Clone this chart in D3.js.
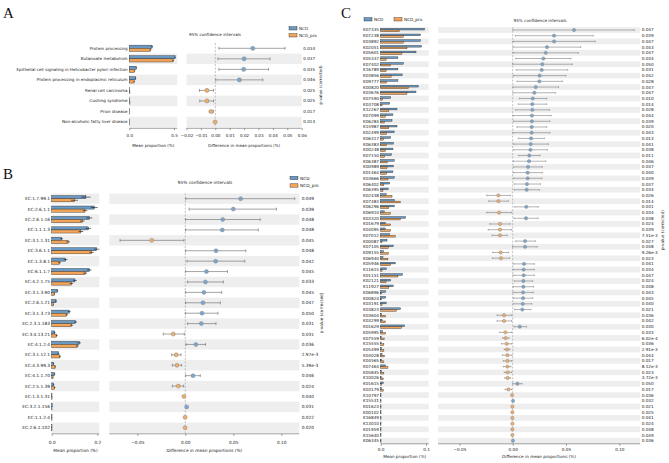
<!DOCTYPE html>
<html>
<head>
<meta charset="utf-8">
<script src="https://cdn.jsdelivr.net/npm/d3@7"></script>
<style>
body { margin: 0; background: #fff; }
svg text { font-family: "DejaVu Sans", sans-serif; fill: #222; }
</style>
</head>
<body>
<svg id="chart" width="669" height="463"></svg>
<script>
// ---- panel A: KEGG pathways ----
var aLabels = ["Protein processing", "Butanoate metabolism", "Epithelial cell signaling in Helicobacter pylori infection",
    "Protein processing in endoplasmic reticulum", "Renal cell carcinoma", "Cushing syndrome", "Prion disease",
    "Non-alcoholic fatty liver disease"];
var aNcd = [0.255, 0.512, 0.078, 0.072, 0.004, 0.004, 0.002, 0.0005];
var aNcdErr = [0.01, 0.01, 0.006, 0.006, 0.001, 0.001, 0.0005, 0.0002];
var aPro = [0.235, 0.49, 0.060, 0.054, 0.007, 0.007, 0.004, 0.0008];
var aProErr = [0.01, 0.01, 0.006, 0.006, 0.001, 0.001, 0.0005, 0.0002];
var aDiff = [0.026, 0.020, 0.0197, 0.0167, -0.0058, -0.0058, -0.0028, -0.0001];
var aLow = [0.0025, 0.0018, 0.0025, 0.0003, -0.011, -0.0108, -0.0042, -0.0003];
var aHigh = [0.0484, 0.038, 0.037, 0.033, -0.0013, -0.0012, -0.0013, 0.0001];
var aP = ["0.034", "0.037", "0.035", "0.046", "0.025", "0.025", "0.017", "0.014"];
var aBarTicks = [0, 0.5];
var aDiffTicks = [-0.02, -0.01, 0, 0.01, 0.02, 0.03, 0.04, 0.05, 0.06];

// ---- panel B: enzymes ----
var bLabels = ["EC:1.7.99.1", "EC:2.6.1.1", "EC:2.6.1.16", "EC:1.1.1.3", "EC:3.1.1.31", "EC:3.6.1.1", "EC:1.3.8.1",
    "EC:6.1.1.7", "EC:4.2.1.75", "EC:3.1.3.90", "EC:2.6.1.21", "EC:3.1.3.73", "EC:2.3.1.183", "EC:3.4.13.21",
    "EC:4.1.2.4", "EC:3.1.12.1", "EC:4.3.99.3", "EC:4.1.1.70", "EC:2.5.1.39", "EC:1.3.1.31", "EC:3.2.1.156",
    "EC:1.1.2.4", "EC:2.6.1.102"];
var bNcd = [0.150, 0.187, 0.165, 0.161, 0.044, 0.197, 0.061, 0.165, 0.102, 0.025, 0.019, 0.077, 0.104, 0.013,
    0.121, 0.029, 0.009, 0.013, 0.009, 0.001, 0.002, 0.0005, 0.0005];
var bNcdErr = [0.02, 0.015, 0.013, 0.012, 0.006, 0.012, 0.008, 0.01, 0.008, 0.004, 0.004, 0.006, 0.007, 0.003,
    0.007, 0.004, 0.002, 0.003, 0.002, 0.0003, 0.0005, 0.0002, 0.0002];
var bPro = [0.100, 0.146, 0.134, 0.128, 0.072, 0.175, 0.034, 0.147, 0.086, 0.012, 0.007, 0.066, 0.088, 0.022,
    0.112, 0.036, 0.015, 0.006, 0.013, 0.0015, 0.001, 0.0008, 0.0008];
var bProErr = [0.015, 0.01, 0.01, 0.01, 0.008, 0.01, 0.006, 0.008, 0.007, 0.003, 0.002, 0.005, 0.006, 0.004,
    0.006, 0.004, 0.003, 0.002, 0.003, 0.0004, 0.0003, 0.0002, 0.0002];
var bDiff = [0.0576, 0.050, 0.039, 0.0385, -0.035, 0.032, 0.0316, 0.022, 0.021, 0.0194, 0.0184, 0.0174, 0.0167,
    -0.0125, 0.011, -0.0094, -0.0087, 0.008, -0.0073, -0.0014, 0.0014, -0.0002, -0.0002];
var bLow = [0.0005, 0.004, 0.0003, 0.0003, -0.068, 0.0003, 0.0017, 0.0003, 0.0024, 0.0003, 0.0003, 0.0, 0.0024,
    -0.023, 0.0007, -0.0142, -0.0135, 0.0003, -0.0135, -0.002, 0.001, -0.0004, -0.0004];
var bHigh = [0.114, 0.095, 0.078, 0.076, -0.0014, 0.063, 0.062, 0.044, 0.0396, 0.038, 0.0365, 0.034, 0.032,
    -0.001, 0.021, -0.0045, -0.0038, 0.0156, -0.0017, -0.0008, 0.0018, 0.0, 0.0];
var bP = ["0.049", "0.039", "0.048", "0.048", "0.045", "0.048", "0.042", "0.045", "0.033", "0.045", "0.047",
    "0.050", "0.031", "0.031", "0.036", "2.97e-3", "5.39e-3", "0.046", "0.024", "0.040", "0.031", "0.022", "0.020"];
var bBarTicks = [0, 0.2];
var bDiffTicks = [-0.05, 0, 0.05, 0.10];

// ---- panel C: KEGG orthologs ----
var cLabels = ["K07335", "K07238", "K03892", "K02051", "K05601", "K05337", "K07402", "K16789", "K03856", "K09777",
    "K00820", "K03676", "K07590", "K03708", "K12267", "K07099", "K06284", "K15987", "K02499", "K06317",
    "K06383", "K00248", "K07150", "K06387", "K00989", "K01464", "K03666", "K06402", "K06395", "K02438",
    "K07483", "K06296", "K06910", "K03320", "K01679", "K04095", "K07012", "K00087", "K07105", "K09155",
    "K06940", "K05946", "K11615", "K01151", "K02121", "K11927", "K06896", "K00824", "K03191", "K03823",
    "K03604", "K03299", "K01629", "K05995", "K07559", "K15555", "K05499", "K04028", "K04565", "K07464",
    "K05845", "K10026", "K01615", "K03179", "K10797", "K15531", "K01623", "K00102", "K16849", "K13010",
    "K01959", "K15640", "K06345"];
var cNcd = [0.097, 0.088, 0.088, 0.090, 0.078, 0.038, 0.050, 0.038, 0.048, 0.038,
    0.083, 0.078, 0.022, 0.020, 0.036, 0.027, 0.025, 0.036, 0.030, 0.022,
    0.028, 0.027, 0.024, 0.030, 0.028, 0.027, 0.030, 0.020, 0.017, 0.012,
    0.030, 0.030, 0.008, 0.055, 0.010, 0.010, 0.020, 0.014, 0.028, 0.006,
    0.005, 0.032, 0.013, 0.048, 0.022, 0.028, 0.011, 0.011, 0.012, 0.044,
    0.002, 0.003, 0.053, 0.004, 0.001, 0.001, 0.002, 0.003, 0.002, 0.011,
    0.002, 0.001, 0.006, 0.002, 0.0003, 0.0005, 0.0003, 0.0003, 0.0003, 0.0003,
    0.0003, 0.0003, 0.0004];
var cPro = [0.042, 0.050, 0.050, 0.058, 0.047, 0.012, 0.022, 0.012, 0.023, 0.013,
    0.062, 0.058, 0.004, 0.003, 0.018, 0.010, 0.008, 0.018, 0.013, 0.006,
    0.012, 0.011, 0.009, 0.015, 0.014, 0.013, 0.016, 0.007, 0.005, 0.025,
    0.043, 0.018, 0.021, 0.043, 0.022, 0.022, 0.032, 0.003, 0.017, 0.017,
    0.016, 0.022, 0.003, 0.038, 0.012, 0.018, 0.002, 0.002, 0.003, 0.035,
    0.010, 0.011, 0.046, 0.011, 0.008, 0.007, 0.007, 0.008, 0.007, 0.016,
    0.007, 0.006, 0.002, 0.006, 0.0006, 0.0002, 0.0005, 0.0005, 0.0005, 0.0005,
    0.0005, 0.0005, 0.0002];
var cDiff = [0.0575, 0.0388, 0.0388, 0.0322, 0.031, 0.0288, 0.0278, 0.0272, 0.0253, 0.025,
    0.0216, 0.0203, 0.0188, 0.0184, 0.0184, 0.018, 0.018, 0.0178, 0.0178, 0.0172,
    0.0169, 0.0166, 0.0156, 0.0153, 0.0144, 0.014, 0.014, 0.0134, 0.0131, -0.0134,
    -0.0134, 0.0128, -0.0128, 0.0125, -0.0119, -0.0119, -0.0119, 0.0116, 0.0116, -0.0113,
    -0.011, 0.0106, 0.0103, 0.0103, 0.01, 0.01, 0.0097, 0.0097, 0.0094, 0.009,
    -0.0081, -0.0081, 0.0066, -0.0069, -0.0066, -0.0056, -0.0053, -0.005, -0.005, -0.005,
    -0.0047, -0.0047, 0.0044, -0.004, -0.0006, 0.0003, -0.0003, -0.0003, -0.0003, -0.0003,
    -0.0003, -0.0003, 0.0002];
var cLow = [0.0003, 0.0025, 0.0003, 0.0003, 0.0003, 0.0028, 0.0, 0.0034, 0.0006, 0.004,
    0.0003, 0.0003, 0.0063, 0.0053, 0.0028, 0.0003, 0.0009, 0.004, 0.0003, 0.0053,
    0.0009, 0.0009, 0.0056, 0.0006, 0.0009, 0.0006, 0.0009, 0.0013, 0.0016, -0.0244,
    -0.0225, 0.0019, -0.0244, 0.0013, -0.0216, -0.023, -0.0194, 0.0028, -0.0003, -0.0188,
    -0.019, 0.0006, 0.0003, 0.0003, 0.0016, 0.0003, 0.0003, 0.0006, 0.0006, 0.0016,
    -0.0147, -0.0147, 0.0012, -0.0122, -0.0094, -0.0106, -0.008, -0.0097, -0.0088, -0.0088,
    -0.008, -0.0075, 0.0, -0.0072, -0.0008, 0.0002, -0.0005, -0.0005, -0.0005, -0.0005,
    -0.0005, -0.0005, 0.0001];
var cHigh = [0.114, 0.0756, 0.0775, 0.0638, 0.0616, 0.0547, 0.056, 0.0516, 0.05, 0.0466,
    0.043, 0.0403, 0.0319, 0.032, 0.0344, 0.036, 0.035, 0.032, 0.035, 0.0297,
    0.0334, 0.0325, 0.0256, 0.031, 0.0278, 0.0278, 0.0275, 0.026, 0.025, -0.0022,
    -0.004, 0.024, -0.001, 0.0238, -0.0022, -0.001, -0.005, 0.0213, 0.023, -0.0038,
    -0.003, 0.0203, 0.0203, 0.0203, 0.0188, 0.0197, 0.0194, 0.0188, 0.018, 0.017,
    -0.001, -0.001, 0.013, -0.001, -0.0034, -0.001, -0.0025, -0.0006, -0.001, -0.0016,
    -0.001, -0.0019, 0.0088, -0.001, -0.0004, 0.0004, -0.0001, -0.0001, -0.0001, -0.0001,
    -0.0001, -0.0001, 0.0003];
var cP = ["0.047", "0.039", "0.047", "0.043", "0.047", "0.034", "0.050", "0.031", "0.042", "0.028",
    "0.047", "0.047", "0.010", "0.014", "0.028", "0.044", "0.039", "0.020", "0.043", "0.013",
    "0.041", "0.038", "0.011", "0.046", "0.037", "0.040", "0.039", "0.037", "0.034", "0.026",
    "0.014", "0.031", "0.034", "0.038", "0.024", "0.039", "7.51e-3", "0.027", "0.048", "9.26e-3",
    "0.023", "0.041", "0.034", "0.047", "0.024", "0.048", "0.043", "0.045", "0.040", "0.021",
    "0.036", "0.042", "0.030", "0.033", "6.02e-4", "0.036", "2.91e-3", "0.044", "0.017", "8.12e-3",
    "0.023", "3.72e-3", "0.050", "0.017", "0.036", "0.032", "0.021", "0.025", "0.041", "0.024",
    "0.048", "0.049", "0.036"];
var cBarTicks = [0, 0.1];
var cDiffTicks = [-0.05, 0, 0.05, 0.10];

var groups = ["NCD", "NCD_pro"];
var barColor = {NCD: "#6a9ac4", NCD_pro: "#f2a458"};
var dotColor = {NCD: "#7ba7cf", NCD_pro: "#f3ad66"};
var stripe = "#eeeeee";

var svg = d3.select('#chart');

function drawPanel(cfg, d) {
    var g = svg.append('g');
    var n = d.labels.length;
    var y = d3.scalePoint().domain(d3.range(n)).range([cfg.y0, cfg.y0 + cfg.step * (n - 1)]);
    var xBar = d3.scaleLinear().domain([0, cfg.barTicks[1]]).range(cfg.barRange);
    var xDiff = d3.scaleLinear().domain([0, 0.05]).range(cfg.diffRange);
    var half = cfg.step / 2;
    var bottom = cfg.y0 + cfg.step * (n - 1) + half;
    var bh = cfg.step * 0.3;

    // alternating row stripes (bottom row shaded)
    var idx = d3.range(n).filter(function(i) { return (n - 1 - i) % 2 === 0; });
    [cfg.barArea, cfg.diffArea].forEach(function(area) {
        g.selectAll(null).data(idx).enter().append('rect')
            .attr('x', area[0]).attr('width', area[1] - area[0])
            .attr('y', function(i) { return y(i) - half; })
            .attr('height', cfg.step)
            .style('fill', stripe);
    });

    // zero line
    g.append('line')
        .attr('x1', xDiff(0)).attr('x2', xDiff(0))
        .attr('y1', cfg.y0 - half).attr('y2', bottom)
        .style('stroke', '#999').style('stroke-width', 0.6).style('stroke-dasharray', '2,1.5');

    // row labels
    g.selectAll(null).data(d.labels).enter().append('text')
        .attr('x', cfg.labelX)
        .attr('y', function(t, i) { return y(i); })
        .attr('dy', '0.35em')
        .attr('text-anchor', 'end')
        .style('font-size', cfg.fs + 'px')
        .text(function(t) { return t; });

    // mean proportion bars
    [["NCD", d.ncd, d.ncdErr, -bh], ["NCD_pro", d.pro, d.proErr, 0]].forEach(function(s) {
        g.selectAll(null).data(s[1]).enter().append('rect')
            .attr('x', xBar(0))
            .attr('y', function(v, i) { return y(i) + s[3]; })
            .attr('width', function(v) { return Math.max(xBar(v) - xBar(0), 0.3); })
            .attr('height', bh)
            .style('fill', barColor[s[0]])
            .style('stroke', '#2a2a2a').style('stroke-width', 0.4);
        if (s[2]) {
            g.selectAll(null).data(s[1]).enter().append('line')
                .attr('x1', function(v, i) { return xBar(v - s[2][i]); })
                .attr('x2', function(v, i) { return xBar(v + s[2][i]); })
                .attr('y1', function(v, i) { return y(i) + s[3] + bh / 2; })
                .attr('y2', function(v, i) { return y(i) + s[3] + bh / 2; })
                .style('stroke', '#111').style('stroke-width', 0.6);
        }
    });

    // confidence intervals
    var cap = cfg.step * 0.14;
    g.selectAll(null).data(d.diff).enter().append('line')
        .attr('x1', function(v, i) { return xDiff(d.low[i]); })
        .attr('x2', function(v, i) { return xDiff(d.high[i]); })
        .attr('y1', function(v, i) { return y(i); })
        .attr('y2', function(v, i) { return y(i); })
        .style('stroke', '#666').style('stroke-width', cfg.lw);
    [d.low, d.high].forEach(function(arr) {
        g.selectAll(null).data(arr).enter().append('line')
            .attr('x1', function(v) { return xDiff(v); })
            .attr('x2', function(v) { return xDiff(v); })
            .attr('y1', function(v, i) { return y(i) - cap; })
            .attr('y2', function(v, i) { return y(i) + cap; })
            .style('stroke', '#666').style('stroke-width', cfg.lw);
    });
    g.selectAll(null).data(d.diff).enter().append('circle')
        .attr('cx', function(v) { return xDiff(v); })
        .attr('cy', function(v, i) { return y(i); })
        .attr('r', cfg.r)
        .style('fill', function(v) { return v > 0 ? dotColor.NCD : dotColor.NCD_pro; })
        .style('stroke', '#888').style('stroke-width', 0.5);

    // p-values
    g.selectAll(null).data(d.p).enter().append('text')
        .attr('x', cfg.pX)
        .attr('y', function(t, i) { return y(i); })
        .attr('dy', '0.35em')
        .style('font-size', cfg.fs + 'px')
        .text(function(t) { return t; });

    // axes
    var axBar = d3.axisBottom(xBar).tickValues(cfg.barTicks).tickFormat(d3.format('.1f')).tickSize(2).tickSizeOuter(0);
    var axDiff = d3.axisBottom(xDiff).tickValues(cfg.diffTicks).tickFormat(d3.format('.2f')).tickSize(2).tickSizeOuter(0);
    [[axBar, cfg.barArea], [axDiff, cfg.diffArea]].forEach(function(a) {
        var ax = g.append('g').attr('transform', 'translate(0,' + cfg.axisY + ')').call(a[0]);
        ax.select('.domain').remove();
        ax.selectAll('line').style('stroke', '#444').style('stroke-width', 0.5);
        ax.selectAll('text').attr('y', cfg.tickOff).attr('dy', '0.35em')
            .style('font-size', cfg.fs + 'px').style('font-family', '"DejaVu Sans", sans-serif').style('fill', '#222');
        ax.append('line').attr('x1', a[1][0]).attr('x2', a[1][1])
            .style('stroke', '#444').style('stroke-width', 0.5);
    });
    g.append('text')
        .attr('x', (cfg.barArea[0] + cfg.barArea[1]) / 2).attr('y', cfg.titleY)
        .attr('text-anchor', 'middle').style('font-size', cfg.fs + 'px')
        .text('Mean proportion (%)');
    g.append('text')
        .attr('x', (cfg.diffArea[0] + cfg.diffArea[1]) / 2).attr('y', cfg.titleY)
        .attr('text-anchor', 'middle').style('font-size', cfg.fs + 'px')
        .text('Difference in mean proportions (%)');
    g.append('text')
        .attr('x', cfg.ciX).attr('y', cfg.ciY)
        .attr('text-anchor', 'middle').style('font-size', cfg.fs + 'px')
        .text('95% confidence intervals');
    g.append('text')
        .attr('transform', 'translate(' + cfg.pLabX + ',' + cfg.pLabY + ') rotate(-90)')
        .attr('text-anchor', 'middle').style('font-size', cfg.fs + 'px')
        .text('p-value (corrected)');

    // legend
    groups.forEach(function(grp, k) {
        var lx = cfg.legend[k][0], ly = cfg.legend[k][1];
        g.append('rect').attr('x', lx).attr('y', ly).attr('width', 8).attr('height', 3.4)
            .style('fill', barColor[grp]).style('stroke', '#2a2a2a').style('stroke-width', 0.4);
        g.append('text').attr('x', lx + 10).attr('y', ly + 1.7).attr('dy', '0.35em')
            .style('font-size', cfg.fs + 'px').text(grp);
    });

    // panel letter
    g.append('text')
        .attr('x', cfg.letter[1]).attr('y', cfg.letter[2])
        .style('font-family', '"Liberation Serif", "Times New Roman", serif')
        .style('font-size', '15px').style('fill', '#111')
        .text(cfg.letter[0]);
}

drawPanel({
    letter: ["A", 3, 18], y0: 48.3, step: 10.53,
    barTicks: aBarTicks, barRange: [129.3, 174], barArea: [129.3, 177.3],
    diffTicks: aDiffTicks, diffRange: [215.3, 287.3], diffArea: [186.5, 301.7],
    labelX: 127.5, pX: 303.3, fs: 4.1, r: 2.1, lw: 0.6,
    axisY: 128.3, tickOff: 7.7, titleY: 147.3, ciX: 215, ciY: 35.5,
    pLabX: 322, pLabY: 85, legend: [[289, 26.6], [289, 33.6]]
}, {labels: aLabels, ncd: aNcd, ncdErr: aNcdErr, pro: aPro, proErr: aProErr,
    diff: aDiff, low: aLow, high: aHigh, p: aP});

drawPanel({
    letter: ["B", 3, 179], y0: 198.7, step: 10.41,
    barTicks: bBarTicks, barRange: [51.7, 97.3], barArea: [51.7, 99.3],
    diffTicks: bDiffTicks, diffRange: [185.3, 233.3], diffArea: [109.3, 299.3],
    labelX: 50, pX: 301.7, fs: 4.3, r: 2.0, lw: 0.6,
    axisY: 433.8, tickOff: 8.9, titleY: 452.2, ciX: 205, ciY: 184.3,
    pLabX: 323, pLabY: 313, legend: [[290, 176.3], [290, 183.8]]
}, {labels: bLabels, ncd: bNcd, ncdErr: bNcdErr, pro: bPro, proErr: bProErr,
    diff: bDiff, low: bLow, high: bHigh, p: bP});

drawPanel({
    letter: ["C", 341, 18], y0: 30, step: 5.705,
    barTicks: cBarTicks, barRange: [380.7, 426], barArea: [380.7, 428.7],
    diffTicks: cDiffTicks, diffRange: [512.7, 566], diffArea: [438, 640],
    labelX: 379, pX: 641.7, fs: 4.2, r: 1.65, lw: 0.5,
    axisY: 443.8, tickOff: 5.6, titleY: 458.3, ciX: 540, ciY: 21.5,
    pLabX: 664, pLabY: 230, legend: [[364, 17.6], [394, 17.6]]
}, {labels: cLabels, ncd: cNcd, pro: cPro,
    diff: cDiff, low: cLow, high: cHigh, p: cP});
</script>
</body>
</html>
